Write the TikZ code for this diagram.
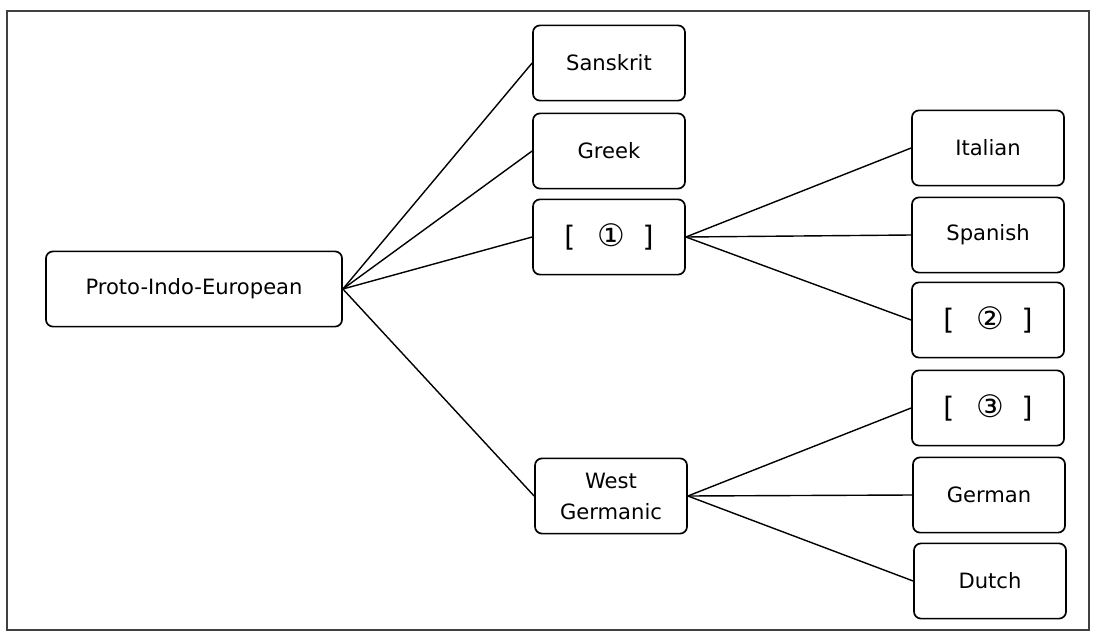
\documentclass[tikz,border=0pt]{standalone}
\usepackage{fontspec}
\setmainfont{DejaVu Sans}
\tikzset{
  langbox/.style={draw, line width=1.2pt, rounded corners=5pt, minimum width=3.8cm, minimum height=1.88cm, align=center, font=\fontsize{15}{22}\selectfont},
  branch/.style={line width=1pt}
}
\newcommand{\gap}[1]{{\fontsize{20}{20}\selectfont [\hspace{0.8em}{\fontsize{22}{22}\selectfont #1}\hspace{0.6em}]}}

\begin{document}
\begin{tikzpicture}[x=0.025cm, y=-0.025cm]
\useasboundingbox (0,0) rectangle (1100,638);
\draw[line width=1pt, black!75] (7,11) rectangle (1089,630);
\node[langbox, minimum width=7.4cm] (pie) at (194,289) {Proto-Indo-European};
\node[langbox] (sanskrit) at (609,63) {Sanskrit};
\node[langbox] (greek) at (609,151) {Greek};
\node[langbox] (gap1) at (609,237) {\gap{①}};
\node[langbox] (westgerm) at (611,496) {West\\Germanic};
\node[langbox] (italian) at (988,148) {Italian};
\node[langbox] (spanish) at (988,235) {Spanish};
\node[langbox] (gap2) at (988,320) {\gap{②}};
\node[langbox] (gap3) at (988,408) {\gap{③}};
\node[langbox] (german) at (989,495) {German};
\node[langbox] (dutch) at (990,581) {Dutch};
\foreach \n in {sanskrit, greek, gap1, westgerm}
  \draw[branch] (pie.east) -- (\n.west);
\foreach \n in {italian, spanish, gap2}
  \draw[branch] (gap1.east) -- (\n.west);
\foreach \n in {gap3, german, dutch}
  \draw[branch] (westgerm.east) -- (\n.west);
\end{tikzpicture}
\end{document}
